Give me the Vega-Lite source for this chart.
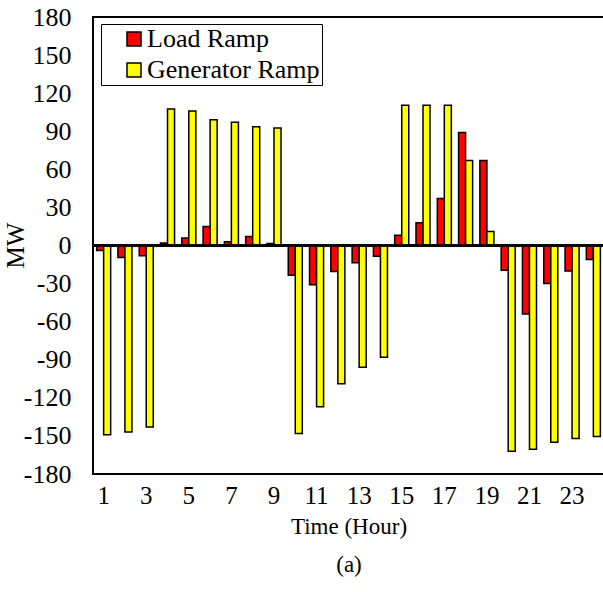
{
  "$schema": "https://vega.github.io/schema/vega-lite/v6.json",
  "autosize": "none",
  "padding": {"left": 93, "top": 17, "right": 0, "bottom": 118},
  "width": 511,
  "height": 457,
  "background": "white",
  "config": {
    "font": "Liberation Serif",
    "view": {"stroke": "black", "strokeWidth": 2},
    "axis": {"labelFont": "Liberation Serif", "titleFont": "Liberation Serif", "labelColor": "black", "titleColor": "black", "titleFontWeight": "normal", "grid": false, "ticks": false, "domain": false, "labelOverlap": false}
  },
  "data": {"values": [
    {"hour": 1, "series": "Load Ramp", "value": -4}, {"hour": 1, "series": "Generator Ramp", "value": -149},
    {"hour": 2, "series": "Load Ramp", "value": -9.5}, {"hour": 2, "series": "Generator Ramp", "value": -147},
    {"hour": 3, "series": "Load Ramp", "value": -8}, {"hour": 3, "series": "Generator Ramp", "value": -143},
    {"hour": 4, "series": "Load Ramp", "value": 2}, {"hour": 4, "series": "Generator Ramp", "value": 107.5},
    {"hour": 5, "series": "Load Ramp", "value": 6}, {"hour": 5, "series": "Generator Ramp", "value": 106},
    {"hour": 6, "series": "Load Ramp", "value": 15}, {"hour": 6, "series": "Generator Ramp", "value": 99},
    {"hour": 7, "series": "Load Ramp", "value": 3}, {"hour": 7, "series": "Generator Ramp", "value": 97},
    {"hour": 8, "series": "Load Ramp", "value": 7}, {"hour": 8, "series": "Generator Ramp", "value": 93.5},
    {"hour": 9, "series": "Load Ramp", "value": 1.5}, {"hour": 9, "series": "Generator Ramp", "value": 92.5},
    {"hour": 10, "series": "Load Ramp", "value": -23.5}, {"hour": 10, "series": "Generator Ramp", "value": -148},
    {"hour": 11, "series": "Load Ramp", "value": -31}, {"hour": 11, "series": "Generator Ramp", "value": -127},
    {"hour": 12, "series": "Load Ramp", "value": -20.5}, {"hour": 12, "series": "Generator Ramp", "value": -109},
    {"hour": 13, "series": "Load Ramp", "value": -13.5}, {"hour": 13, "series": "Generator Ramp", "value": -96},
    {"hour": 14, "series": "Load Ramp", "value": -8.5}, {"hour": 14, "series": "Generator Ramp", "value": -88},
    {"hour": 15, "series": "Load Ramp", "value": 8}, {"hour": 15, "series": "Generator Ramp", "value": 110.5},
    {"hour": 16, "series": "Load Ramp", "value": 18}, {"hour": 16, "series": "Generator Ramp", "value": 110.5},
    {"hour": 17, "series": "Load Ramp", "value": 37}, {"hour": 17, "series": "Generator Ramp", "value": 110.5},
    {"hour": 18, "series": "Load Ramp", "value": 89}, {"hour": 18, "series": "Generator Ramp", "value": 67},
    {"hour": 19, "series": "Load Ramp", "value": 67}, {"hour": 19, "series": "Generator Ramp", "value": 11},
    {"hour": 20, "series": "Load Ramp", "value": -19.5}, {"hour": 20, "series": "Generator Ramp", "value": -162},
    {"hour": 21, "series": "Load Ramp", "value": -54}, {"hour": 21, "series": "Generator Ramp", "value": -160.5},
    {"hour": 22, "series": "Load Ramp", "value": -30}, {"hour": 22, "series": "Generator Ramp", "value": -155},
    {"hour": 23, "series": "Load Ramp", "value": -20}, {"hour": 23, "series": "Generator Ramp", "value": -152},
    {"hour": 24, "series": "Load Ramp", "value": -11}, {"hour": 24, "series": "Generator Ramp", "value": -150.5}
  ]},
  "layer": [
    {
      "mark": {"type": "bar", "stroke": "black", "strokeWidth": 1.5},
      "encoding": {
        "x": {
          "field": "hour", "type": "ordinal",
          "scale": {"paddingInner": 0.34, "paddingOuter": 0.17},
          "axis": {
            "labelAngle": 0,
            "labelExpr": "datum.value % 2 == 1 ? datum.label : ''",
            "labelFontSize": 25,
            "labelPadding": 9,
            "title": ["Time (Hour)", "(a)"],
            "titleFontSize": 23,
            "titleLineHeight": 38,
            "titlePadding": 7
          }
        },
        "xOffset": {"field": "series", "type": "nominal", "sort": ["Load Ramp", "Generator Ramp"]},
        "y": {
          "field": "value", "type": "quantitative",
          "scale": {"domain": [-180, 180], "nice": false},
          "axis": {
            "values": [-180, -150, -120, -90, -60, -30, 0, 30, 60, 90, 120, 150, 180],
            "tickCount": 30,
            "labelExpr": "toString(datum.value)",
            "labelOverlap": false,
            "labelFontSize": 26,
            "labelPadding": 22,
            "title": "MW",
            "titleFontSize": 25,
            "titleX": -78,
            "titleY": 228,
            "titleAngle": 270,
            "titleAlign": "center",
            "titleBaseline": "middle"
          }
        },
        "color": {
          "field": "series", "type": "nominal",
          "scale": {"domain": ["Load Ramp", "Generator Ramp"], "range": ["#FF0000", "#FFFF00"]},
          "legend": {
            "title": null,
            "orient": "none",
            "legendX": 8,
            "legendY": 7,
            "direction": "vertical",
            "strokeColor": "black",
            "fillColor": "white",
            "padding": 2,
            "symbolOffset": 18,
            "symbolType": "square",
            "symbolSize": 196,
            "symbolStrokeColor": "black",
            "symbolStrokeWidth": 1.5,
            "symbolFillColor": "white",
            "labelFont": "Liberation Serif",
            "labelFontSize": 26,
            "labelColor": "black",
            "labelOffset": 0,
            "labelExpr": "datum.label + '\u00a0\u00a0\u00a0'",
            "rowPadding": 5,
            "labelLimit": 400
          }
        }
      }
    },
    {
      "mark": {"type": "rule", "color": "black", "strokeWidth": 1.5},
      "encoding": {"y": {"datum": 0, "type": "quantitative"}}
    }
  ]
}
